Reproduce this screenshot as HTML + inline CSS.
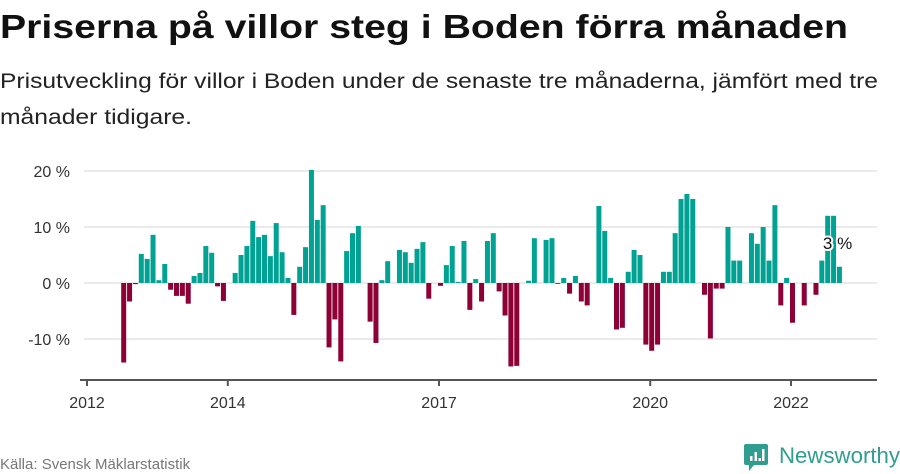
<!DOCTYPE html>
<html><head><meta charset="utf-8"><style>
html,body{margin:0;padding:0;background:#fff;width:900px;height:474px;overflow:hidden}
svg{display:block;font-family:"Liberation Sans",sans-serif}
</style></head><body>
<svg id="chart" width="900" height="474" viewBox="0 0 900 474">
<text x="0" y="38" font-size="33" font-weight="bold" fill="#111" textLength="848" lengthAdjust="spacingAndGlyphs">Priserna på villor steg i Boden förra månaden</text>
<text x="0" y="88" font-size="21" fill="#222" textLength="878" lengthAdjust="spacingAndGlyphs">Prisutveckling för villor i Boden under de senaste tre månaderna, jämfört med tre</text>
<text x="0" y="124" font-size="21" fill="#222" textLength="192" lengthAdjust="spacingAndGlyphs">månader tidigare.</text>
<g id="grid"></g>
<g id="bars"></g>
<g id="xaxis"></g>
<g id="yaxis"></g>
<g id="annot"></g>
<text x="0" y="469" font-size="15" fill="#777">Källa: Svensk Mäklarstatistik</text>
<g>
<path d="M746 444 h20 a2 2 0 0 1 2 2 v17 a2 2 0 0 1 -2 2 h-12 l-5 6 v-6 h-3 a2 2 0 0 1 -2 -2 v-17 a2 2 0 0 1 2 -2z" fill="#2f9e8f"/>
<rect x="750" y="456" width="2.5" height="5" fill="#fff"/><rect x="754.5" y="452" width="2.5" height="9" fill="#fff"/><rect x="758.5" y="458" width="2.5" height="3" fill="#fff"/><rect x="762" y="449" width="2.5" height="12" fill="#fff"/>
<text x="779" y="463" font-size="22" fill="#2f9e8f" textLength="121" lengthAdjust="spacingAndGlyphs">Newsworthy</text>
</g>
</svg>
<script>
// month index from Jan 2012; null = no data
const startMonth = 6;
const values = [
-14.2,-3.3,-0.2,5.2,4.3,8.6,0.5,3.4,-1.2,-2.3,-2.3,-3.7,1.25,1.8,6.6,5.4,-0.6,-3.2,
null,1.8,5.0,6.6,11.1,8.2,8.6,4.8,10.7,5.5,0.9,-5.7,
2.9,6.4,20.2,11.25,13.9,-11.5,-6.5,-14.0,5.7,8.9,10.2,null,
-6.9,-10.7,0.5,3.9,null,5.9,5.5,3.6,6.1,7.3,-2.8,null,
-0.5,3.2,6.6,0.2,7.5,-4.8,0.7,-3.3,7.5,8.9,-1.5,-5.8,
-14.9,-14.8,null,0.4,8.0,null,7.7,8.0,-0.1,0.9,-1.9,1.25,
-3.3,-4.0,null,13.75,9.3,0.9,-8.3,-8.0,2.0,5.9,5.0,-11.0,
-12.1,-11.0,2.0,2.0,8.9,15.0,15.9,15.0,null,-2.1,-9.9,-1.0,
-1.0,10.0,4.0,4.0,null,8.9,7.0,10.0,4.0,13.9,-4.0,0.9,
-7.1,null,-4.0,null,-2.1,4.0,12.0,12.0,2.9
];
const yTicks = [-10, 0, 10, 20];
const yTickLabels = ["-10 %", "0 %", "10 %", "20 %"];
const xTickYears = [2012, 2014, 2017, 2020, 2022];

const NS = "http://www.w3.org/2000/svg";
const x = m => 87 + m * 70.4 / 12;
const y = v => 283 - v * 5.6;
function mk(tag, attrs, parent){const e=document.createElementNS(NS,tag);for(const k in attrs)e.setAttribute(k,attrs[k]);parent.appendChild(e);return e;}

const grid = document.getElementById('grid');
const yaxis = document.getElementById('yaxis');
yTicks.forEach((t,i)=>{
  const l = mk('line',{x1:84,x2:877,y1:y(t),y2:y(t),stroke:'#e3e3e3','stroke-width':1.5},grid);
  
  
  const tx = mk('text',{x:70,y:y(t)+6,'font-size':16,fill:'#333','text-anchor':'end'},yaxis);
  tx.textContent = yTickLabels[i];
  
  
});

const bars = document.getElementById('bars');
values.forEach((v,i)=>{
  if(v===null) return;
  const m = startMonth + i;
  const cx = x(m) + 1.5;
  const y0 = y(0), y1 = y(v);
  const r = mk('rect',{x:cx-2.5,width:5,y:Math.min(y0,y1),height:Math.max(0.8,Math.abs(y1-y0)),fill:v>=0?'#00a393':'#8d0137'},bars);
  
  
});

const xaxis = document.getElementById('xaxis');
mk('line',{x1:80,x2:877,y1:380,y2:380,stroke:'#555','stroke-width':2},xaxis);
xTickYears.forEach(yr=>{
  const px = x((yr-2012)*12);
  mk('line',{x1:px,x2:px,y1:380,y2:386,stroke:'#555','stroke-width':2},xaxis);
  const t = mk('text',{x:px,y:408,'font-size':16,fill:'#333','text-anchor':'middle'},xaxis);
  t.textContent = yr;
  
  
});

// annotation for last value
const lastIdx = values.length-1;
const lv = values[lastIdx];
const annot = document.getElementById('annot');
const at = mk('text',{x:x(startMonth+lastIdx)-15,y:249,'font-size':17,fill:'#111',stroke:'#fff','stroke-width':4,'paint-order':'stroke'},annot);
at.textContent = Math.round(lv)+' %';


</script>
</body></html>
